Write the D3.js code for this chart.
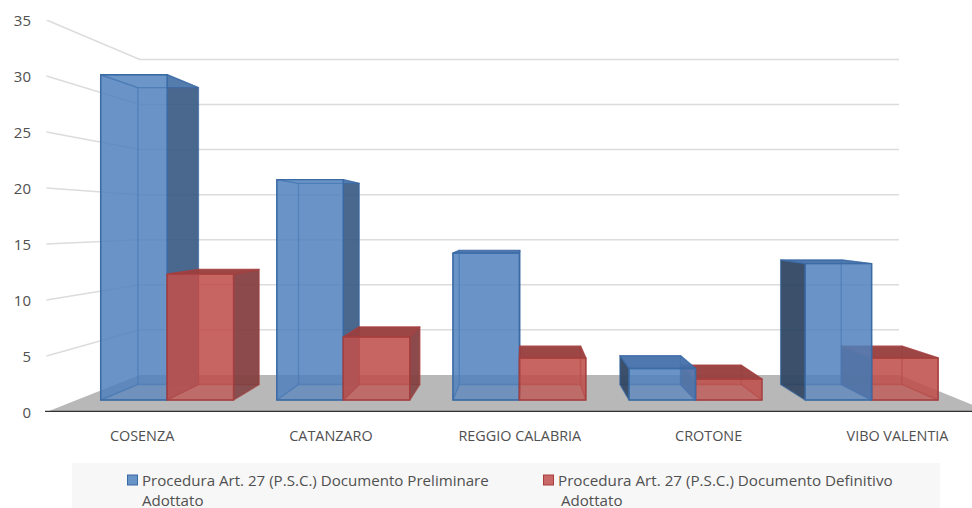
<!DOCTYPE html>
<html><head><meta charset="utf-8">
<script src="https://cdn.jsdelivr.net/npm/d3@7"></script>
<style>html,body{margin:0;background:#fff;overflow:hidden}svg{display:block}text{font-family:"Open Sans",sans-serif;fill:#505050}</style>
</head><body><svg id="c" width="972" height="508"></svg>
<script>
const categories = ["COSENZA","CATANZARO","REGGIO CALABRIA","CROTONE","VIBO VALENTIA"];
const preliminare = [31,21,14,3,13];
const definitivo = [12,6,4,2,4];
const yTicks = [0,5,10,15,20,25,30,35];
const legendLabels = [["Procedura Art. 27 (P.S.C.) Documento Preliminare","Adottato"],["Procedura Art. 27 (P.S.C.) Documento Definitivo","Adottato"]];

const W=972,H=508, eye={x:525,y:222};
const svg=d3.select("#c");
const y=d3.scaleLinear().domain([0,35]).range([412,20]);
const x=d3.scaleBand().domain(categories).range([49,989]).paddingInner(.2454).paddingOuter(.1227);
const inner=d3.scaleBand().domain([0,1]).range([0,x.bandwidth()]);
const depth=d3.scaleLinear().domain([0,1]).range([1,.805]); // perspective shrink along depth
const P=(mx,v,z)=>{const s=depth(z);return [eye.x+(mx-eye.x)*s, eye.y+(y(v)-eye.y)*s];};
const line=d3.line();
const poly=pts=>line(pts)+"Z";

const root=svg.append("g").attr("filter","url(#soft)");
svg.append("defs").append("filter").attr("id","soft").attr("x",0).attr("y",0).attr("width","100%").attr("height","100%")
  .append("feGaussianBlur").attr("stdDeviation",.35);

// floor
const xL=46.5,xR=990;
root.append("path").attr("d",poly([P(xL,0,0),P(xL,0,1),P(xR,0,1),P(xR,0,0)])).attr("fill","#b8b8b8");
// gridlines
yTicks.filter(d=>d>0).forEach(t=>{
  root.append("path").attr("fill","none").attr("stroke","#dcdcdc").attr("stroke-width",1.5)
   .attr("d",line([P(xL,t,0),P(xL,t,1),[899,P(xR,t,1)[1]]]));
});
root.append("line").attr("x1",45).attr("x2",972).attr("y1",y(0)).attr("y2",y(0)).attr("stroke","#333").attr("stroke-width",2.6);

const styles=[
 {base:"#4f81bd",alpha:.6,edge:"#3a6aa5",side:"#37557d",dark:"#2c3f58",top:"#4571aa"},
 {base:"#c0504d",alpha:.66,edge:"#a53f3f",side:"#7a3b3c",dark:"#5e2c2c",top:"#953f3f"}];
const zF=.324, zB=.744;
function bar(cat,si,v){
  const st=styles[si], x0=x(cat)+inner(si), x1=x0+inner.bandwidth();
  const c=(mx,val,z)=>P(mx,val,z);
  const FL0=c(x0,0,zF),FR0=c(x1,0,zF),FL1=c(x0,v,zF),FR1=c(x1,v,zF);
  const BL0=c(x0,0,zB),BR0=c(x1,0,zB),BL1=c(x0,v,zB),BR1=c(x1,v,zB);
  const g=root.append("g");
  const face=(pts,fill,op,strokeOp)=>g.append("path").attr("d",poly(pts)).attr("fill",fill).attr("fill-opacity",op)
     .attr("stroke",st.edge).attr("stroke-opacity",strokeOp).attr("stroke-width",1.4).attr("stroke-linejoin","round");
  const rightVisible = x1<eye.x, leftVisible = x0>eye.x;
  const topVisible = y(v)>eye.y;
  face([BL0,BR0,BR1,BL1],st.base,st.alpha,.35);         // back
  face([FL0,FR0,BR0,BL0],st.base,.22,.4);               // bottom
  face([FL0,BL0,BL1,FL1],leftVisible?st.dark:st.base,leftVisible?.85:st.alpha,.5);
  face([FR0,BR0,BR1,FR1],rightVisible?st.side:st.base,rightVisible?.8:st.alpha,.5);
  face([FL1,FR1,BR1,BL1],topVisible?st.top:st.base,topVisible?.88:.58,.7);
  face([FL0,FR0,FR1,FL1],st.base,st.alpha,1);           // front
}
categories.forEach((cat,i)=>{
  const leftOfEye=x(cat)+x.bandwidth()/2<eye.x;
  const order=leftOfEye?[0,1]:[1,0];
  order.forEach(si=>bar(cat,si,(si===0?preliminare:definitivo)[i]));
});

// axes
const yAxis=d3.axisLeft(y).tickValues(yTicks).tickSize(0).tickPadding(0);
const ga=svg.append("g").attr("transform","translate(31,1)").call(yAxis);
ga.select(".domain").remove();
ga.selectAll("text").attr("font-size",15).attr("font-family",'"Open Sans"');
const labelScale=d3.scalePoint().domain(categories).range([141.6,897]);
const xa=svg.append("g").attr("transform","translate(0,431)").call(d3.axisBottom(labelScale).tickSize(0).tickPadding(0));
xa.select(".domain").remove();
xa.selectAll("text").attr("font-size",14.4).attr("font-family",'"Open Sans"');

// legend
svg.append("rect").attr("x",72).attr("y",463).attr("width",868).attr("height",45).attr("fill","#f7f7f7");
const legX=d3.scalePoint().domain([0,1]).range([127,543]);
legendLabels.forEach((ls,i)=>{
  const g=svg.append("g").attr("transform",`translate(${legX(i)},0)`);
  g.append("rect").attr("x",.5).attr("y",475).attr("width",10).attr("height",10)
    .attr("fill",styles[i].base).attr("fill-opacity",.85).attr("stroke",styles[i].edge);
  ls.forEach((t,k)=>g.append("text").attr("x",k===0?15:(i===0?15:18)).attr("y",485.5+k*20).attr("font-size",k===0&&i===1?15.2:15.1).text(t));
});
</script></body></html>
